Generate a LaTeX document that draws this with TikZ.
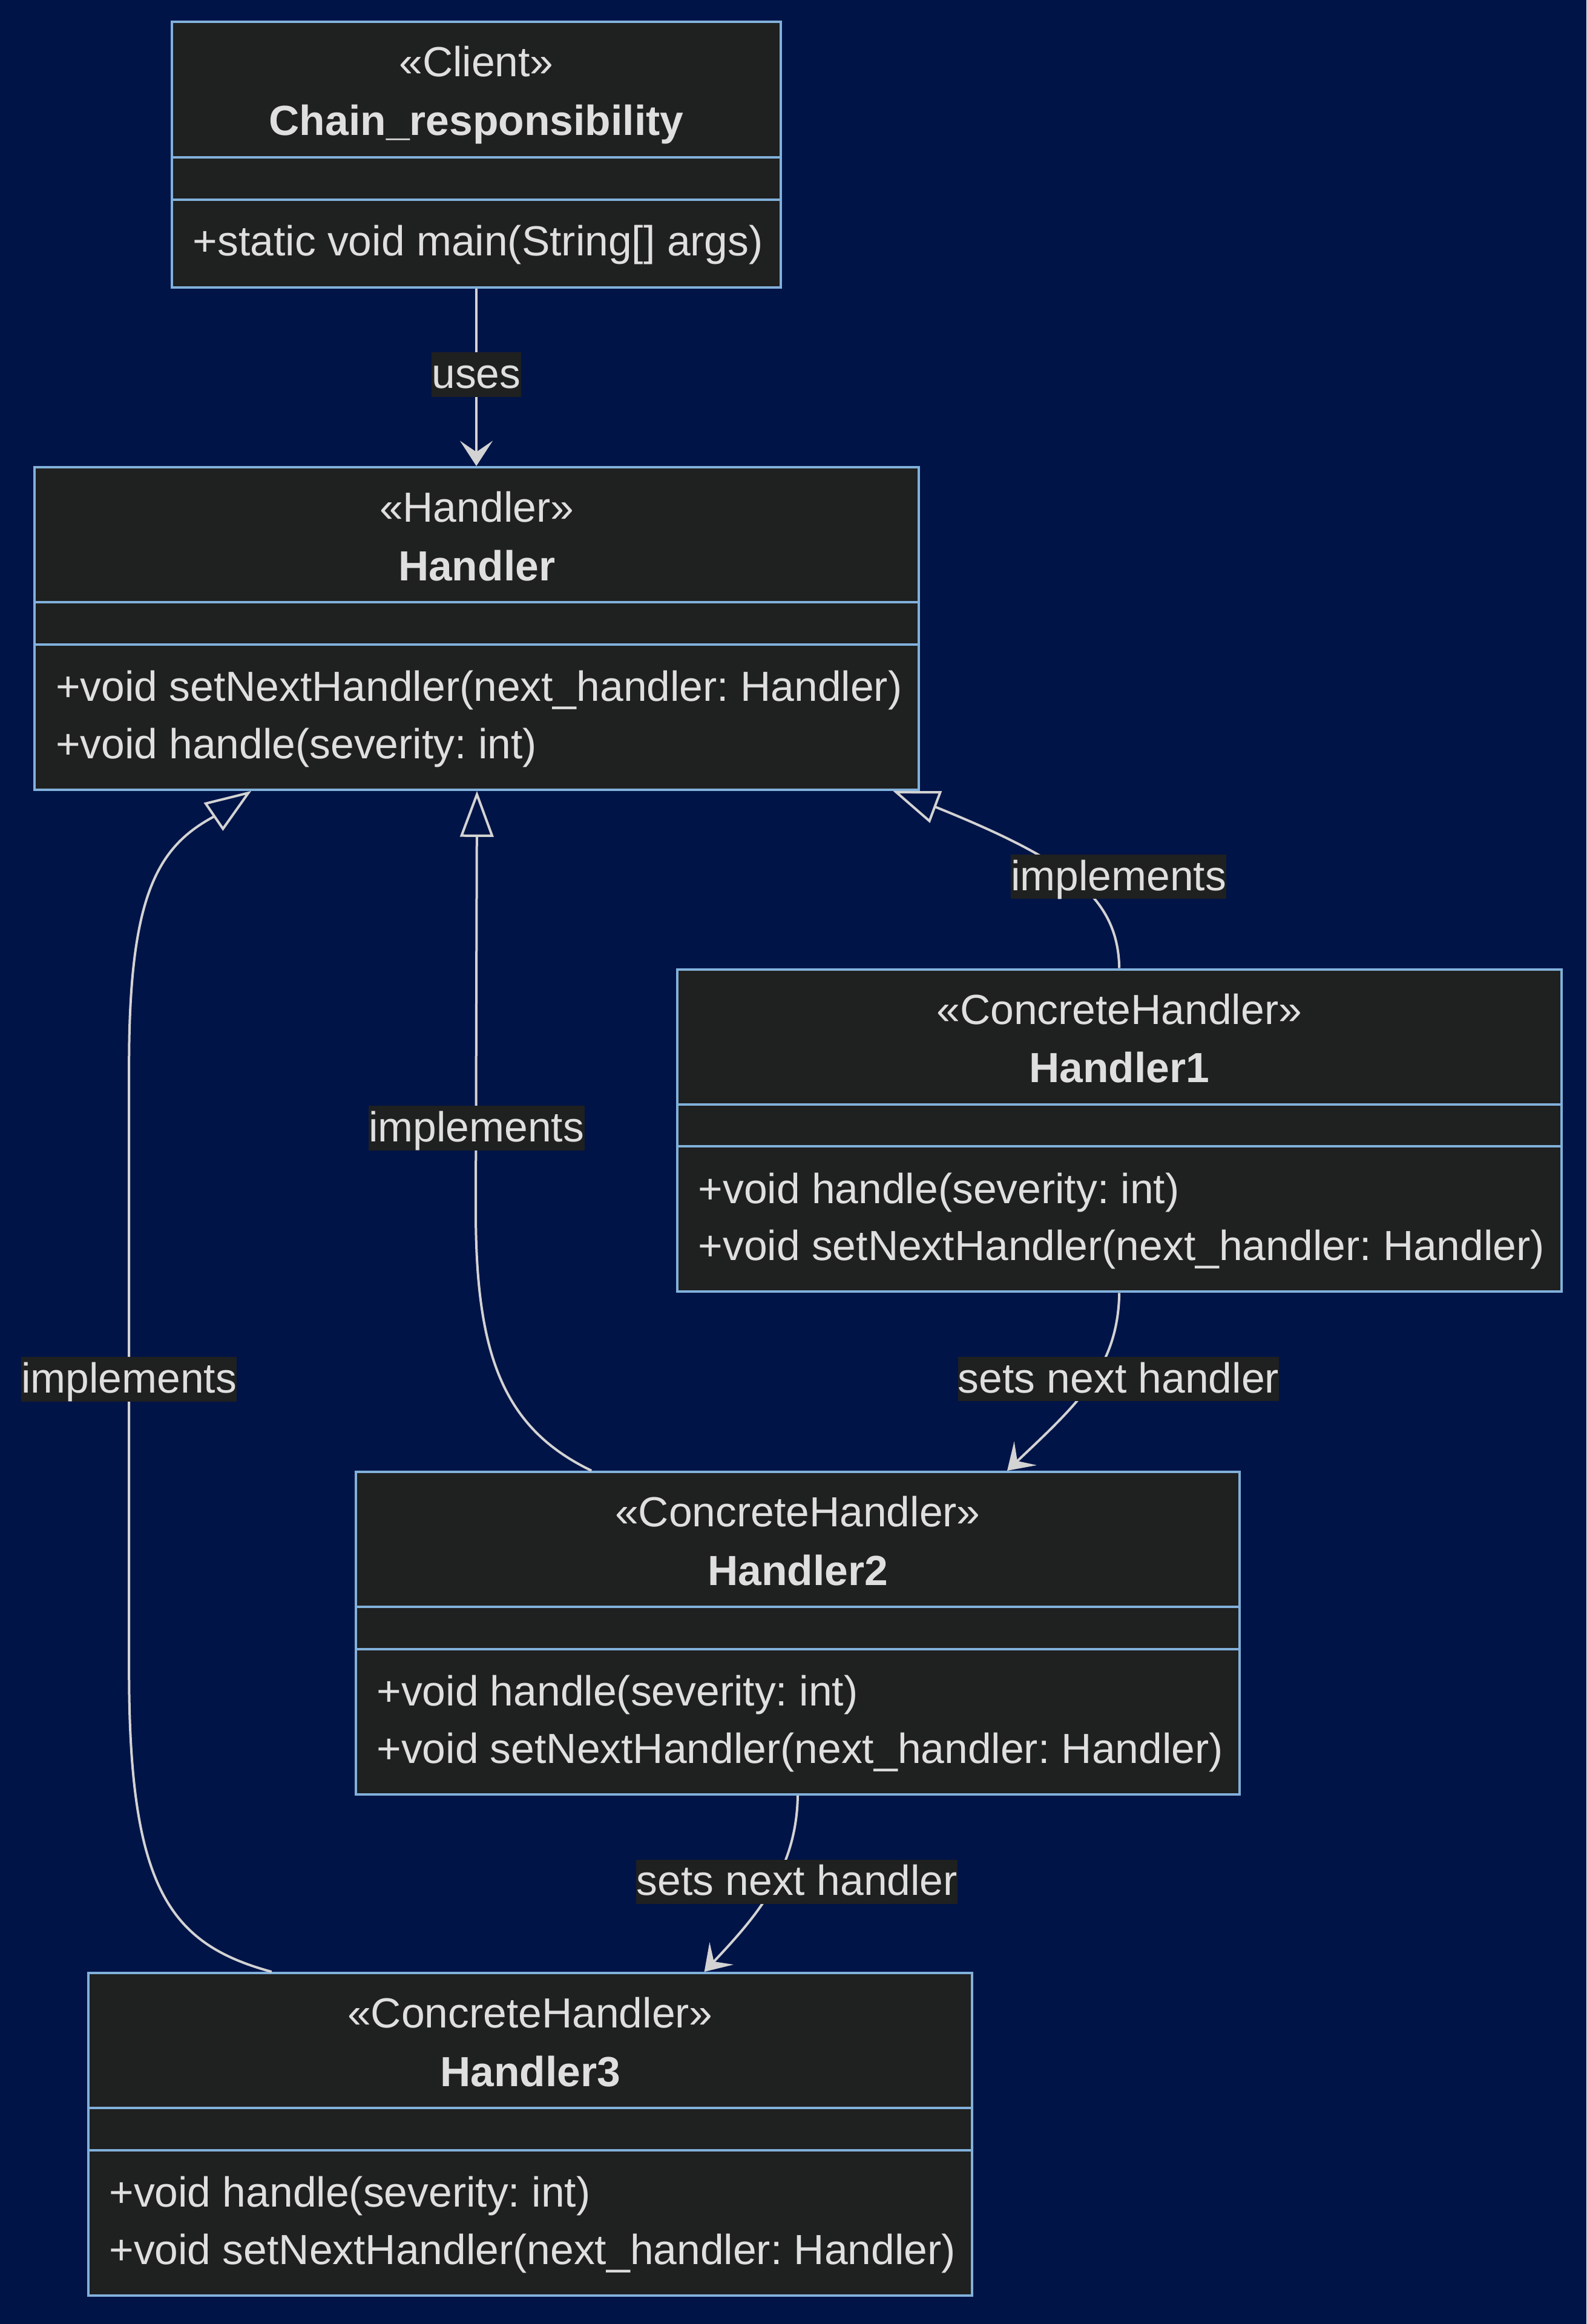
\documentclass[tikz,border=0pt]{standalone}
\usepackage{fontspec}
\setmainfont{Liberation Sans}
\usetikzlibrary{arrows.meta,calc}
\frenchspacing

\definecolor{bgnavy}{HTML}{001447}
\definecolor{boxfill}{HTML}{1F2020}
\definecolor{boxline}{HTML}{81B1DB}
\definecolor{inktext}{HTML}{E0DFDF}
\definecolor{edgeline}{HTML}{D3D3D3}
\definecolor{labelfill}{HTML}{1F2020}

\newcommand{\umlfont}{\fontsize{17.4pt}{23.7pt}\selectfont}

\tikzset{
  classbox/.style={draw=boxline, fill=boxfill, line width=1pt, inner sep=0pt,
    anchor=north west, minimum width=365.2pt, minimum height=133.2pt},
  divider/.style={draw=boxline, line width=1pt},
  stereo/.style={anchor=base, inner sep=0pt, text=inktext, font=\umlfont},
  cname/.style={anchor=base, inner sep=0pt, text=inktext, font=\umlfont\bfseries},
  member/.style={anchor=base west, inner sep=0pt, text=inktext, font=\umlfont},
  edge/.style={draw=edgeline, line width=1pt},
  dep/.style={edge, -{Stealth[length=10.4pt, width=13.5pt, inset=4.6pt]}},
  realize/.style={edge, -{Triangle[open, length=19pt, width=13.8pt, line width=1pt]}},
  elabel/.style={fill=labelfill, text=inktext, font=\umlfont, inner xsep=0.1pt,
    inner ysep=0pt, text height=14.8pt, text depth=3.5pt}
}

\begin{document}
\begin{tikzpicture}[x=1pt, y=-1pt]
  % canvas
  \fill[bgnavy] (0,0) rectangle (655.25,960);
  \useasboundingbox (0,0) rectangle (655.25,960);

  % ---- class boxes ----
  \node[classbox, minimum width=251.5pt, minimum height=109.75pt] (client) at (70.5,8.5) {};
  \node[classbox] (handler) at (13.8,192.5) {};
  \node[classbox] (h1) at (279.2,399.9) {};
  \node[classbox] (h2) at (146.4,607.5) {};
  \node[classbox] (h3) at (35.9,814.5) {};

  % compartment separators
  \draw[divider] ($(client.north west)+(0,56.5)$) -- ($(client.north east)+(0,56.5)$);
  \draw[divider] ($(client.north west)+(0,74.0)$) -- ($(client.north east)+(0,74.0)$);
  \foreach \c in {handler,h1,h2,h3}{
    \draw[divider] ($(\c.north west)+(0,56.3)$) -- ($(\c.north east)+(0,56.3)$);
    \draw[divider] ($(\c.north west)+(0,73.7)$) -- ($(\c.north east)+(0,73.7)$);
  }

  % ---- class texts ----
  \node[stereo] (client-st) at ($(client.north)+(0,23.2)$) {«Client»};
  \node[cname]  (client-nm) at ($(client.north)+(0,47.3)$) {Chain\_responsibility};
  \node[member] (client-m1) at ($(client.north west)+(9,97.1)$) {+static void main(String[] args)};

  \node[stereo] (handler-st) at ($(handler.north)+(0,23.2)$) {«Handler»};
  \node[cname]  (handler-nm) at ($(handler.north)+(0,47.3)$) {Handler};
  \node[member] (handler-m1) at ($(handler.north west)+(9,97.1)$) {+void setNextHandler(next\_handler: Handler)};
  \node[member] (handler-m2) at ($(handler.north west)+(9,120.8)$) {+void handle(severity: int)};

  \node[stereo] (h1-st) at ($(h1.north)+(0,23.2)$) {«ConcreteHandler»};
  \node[cname]  (h1-nm) at ($(h1.north)+(0,47.3)$) {Handler1};
  \node[member] (h1-m1) at ($(h1.north west)+(9,97.1)$) {+void handle(severity: int)};
  \node[member] (h1-m2) at ($(h1.north west)+(9,120.8)$) {+void setNextHandler(next\_handler: Handler)};

  \node[stereo] (h2-st) at ($(h2.north)+(0,23.2)$) {«ConcreteHandler»};
  \node[cname]  (h2-nm) at ($(h2.north)+(0,47.3)$) {Handler2};
  \node[member] (h2-m1) at ($(h2.north west)+(9,97.1)$) {+void handle(severity: int)};
  \node[member] (h2-m2) at ($(h2.north west)+(9,120.8)$) {+void setNextHandler(next\_handler: Handler)};

  \node[stereo] (h3-st) at ($(h3.north)+(0,23.2)$) {«ConcreteHandler»};
  \node[cname]  (h3-nm) at ($(h3.north)+(0,47.3)$) {Handler3};
  \node[member] (h3-m1) at ($(h3.north west)+(9,97.1)$) {+void handle(severity: int)};
  \node[member] (h3-m2) at ($(h3.north west)+(9,120.8)$) {+void setNextHandler(next\_handler: Handler)};

  % ---- relations ----
  % client uses the handler interface
  \draw[dep] (client.south) -- (client.south |- handler.north);

  % realizations of Handler
  \draw[realize] (h1.north)
      .. controls (461.8,370) and (440,355) .. (385.8,333.1)
      -- ($(handler.south east)+(-11.2,0)$);
  \draw[realize] ($(h2.north)+(-85.2,0)$)
      .. controls (208,590) and (196.5,560) .. (196.5,500)
      -- ($(handler.south)+(0.1,0)$);
  \draw[realize] ($(h3.north)+(-106.8,0)$)
      .. controls (70,803) and (53.3,780) .. (53.3,690)
      -- (53.3,440)
      .. controls (53.3,370) and (65,350) .. (88,337.5)
      -- ($(handler.south)+(-93.1,0)$);

  % successor chain
  \draw[dep] (h1.south)
      .. controls (461.8,565) and (445,580) .. ($(h2.north)+(86.5,0)$);
  \draw[dep] (h2.south)
      .. controls (329,773) and (312,792) .. ($(h3.north)+(71.9,0)$);

  % ---- relation labels ----
  \node[elabel] (lbl-uses) at (196.7,154.75) {uses};
  \node[elabel] (lbl-impl1) at (462,362.2) {implements};
  \node[elabel] (lbl-impl2) at (196.8,466) {implements};
  \node[elabel] (lbl-impl3) at (53.25,569.75) {implements};
  \node[elabel] (lbl-next1) at (462,569.7) {sets next handler};
  \node[elabel] (lbl-next2) at (329.2,777.3) {sets next handler};
\end{tikzpicture}
\end{document}
